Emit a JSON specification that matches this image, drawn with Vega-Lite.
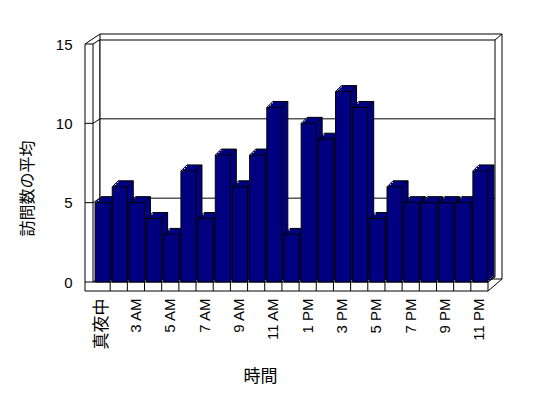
{
  "$schema": "https://vega.github.io/schema/vega-lite/v6.json",
  "width": 395,
  "height": 238,
  "autosize": {"type": "none"},
  "padding": {"left": 93, "top": 44, "right": 60, "bottom": 116},
  "background": "white",
  "config": {"view": {"stroke": null}, "font": "Liberation Sans, Noto Sans CJK JP"},
  "datasets": {
    "visits": [
      {"hour": "真夜中", "visits": 5}, {"hour": "2 AM", "visits": 6}, {"hour": "3 AM", "visits": 5},
      {"hour": "4 AM", "visits": 4}, {"hour": "5 AM", "visits": 3}, {"hour": "6 AM", "visits": 7},
      {"hour": "7 AM", "visits": 4}, {"hour": "8 AM", "visits": 8}, {"hour": "9 AM", "visits": 6},
      {"hour": "10 AM", "visits": 8}, {"hour": "11 AM", "visits": 11}, {"hour": "正午", "visits": 3},
      {"hour": "1 PM", "visits": 10}, {"hour": "2 PM", "visits": 9}, {"hour": "3 PM", "visits": 12},
      {"hour": "4 PM", "visits": 11}, {"hour": "5 PM", "visits": 4}, {"hour": "6 PM", "visits": 6},
      {"hour": "7 PM", "visits": 5}, {"hour": "8 PM", "visits": 5}, {"hour": "9 PM", "visits": 5},
      {"hour": "10 PM", "visits": 5}, {"hour": "11 PM", "visits": 7}
    ],
    "grid": [{"v": 5}, {"v": 10}],
    "ticks": [{"v": 0}, {"v": 5}, {"v": 10}, {"v": 15}],
    "one": [{}]
  },
  "data": {"name": "visits"},
  "layer": [
    {
      "data": {"name": "one"},
      "mark": {"type": "rect", "fill": "white", "stroke": "black", "strokeWidth": 1, "xOffset": 7, "x2Offset": 14, "yOffset": -10, "y2Offset": -3},
      "encoding": {
        "x": {"datum": "真夜中", "bandPosition": 0},
        "x2": {"datum": "11 PM", "bandPosition": 1},
        "y": {"datum": 15},
        "y2": {"datum": 0}
      }
    },
    {
      "data": {"name": "one"},
      "mark": {"type": "rect", "fill": "white", "stroke": "black", "strokeWidth": 1, "xOffset": 7, "x2Offset": 7, "yOffset": -4, "y2Offset": -5},
      "encoding": {
        "x": {"datum": "真夜中", "bandPosition": 0},
        "x2": {"datum": "11 PM", "bandPosition": 1},
        "y": {"datum": 15},
        "y2": {"datum": 0}
      }
    },
    {
      "data": {"name": "grid"},
      "mark": {"type": "rule", "color": "black", "strokeWidth": 1, "xOffset": 7, "x2Offset": 7, "yOffset": -4.5},
      "encoding": {
        "x": {"datum": "真夜中", "bandPosition": 0},
        "x2": {"datum": "11 PM", "bandPosition": 1},
        "y": {"field": "v", "type": "quantitative"}
      }
    },
    {
      "data": {"name": "one"},
      "mark": {"type": "rule", "color": "black", "strokeWidth": 1, "xOffset": -8, "y2Offset": 9},
      "encoding": {
        "x": {"datum": "真夜中", "bandPosition": 0},
        "y": {"datum": 15},
        "y2": {"datum": 0}
      }
    },
    {
      "data": {"name": "one"},
      "mark": {"type": "rule", "color": "black", "strokeWidth": 1},
      "encoding": {
        "x": {"datum": "真夜中", "bandPosition": 0},
        "y": {"datum": 15},
        "y2": {"datum": 0}
      }
    },
    {
      "data": {"name": "ticks"},
      "mark": {"type": "rule", "color": "black", "strokeWidth": 1, "xOffset": -8, "x2Offset": 0},
      "encoding": {
        "x": {"datum": "真夜中", "bandPosition": 0},
        "x2": {"datum": "真夜中", "bandPosition": 0},
        "y": {"field": "v", "type": "quantitative"}
      }
    },
    {
      "data": {"name": "ticks"},
      "mark": {"type": "rule", "color": "black", "strokeWidth": 1, "xOffset": 0, "x2Offset": 7, "y2Offset": -4.5},
      "encoding": {
        "x": {"datum": "真夜中", "bandPosition": 0},
        "x2": {"datum": "真夜中", "bandPosition": 0},
        "y": {"field": "v", "type": "quantitative"},
        "y2": {"field": "v"}
      }
    },
    {
      "data": {"name": "one"},
      "mark": {"type": "rule", "color": "black", "strokeWidth": 1, "xOffset": -8, "x2Offset": 7, "y2Offset": -10},
      "encoding": {
        "x": {"datum": "真夜中", "bandPosition": 0},
        "x2": {"datum": "真夜中", "bandPosition": 0},
        "y": {"datum": 15},
        "y2": {"datum": 15}
      }
    },
    {
      "data": {"name": "one"},
      "mark": {"type": "rule", "color": "black", "strokeWidth": 1, "xOffset": 7, "x2Offset": 14, "yOffset": -4, "y2Offset": -10},
      "encoding": {
        "x": {"datum": "11 PM", "bandPosition": 1},
        "x2": {"datum": "11 PM", "bandPosition": 1},
        "y": {"datum": 15},
        "y2": {"datum": 15}
      }
    },
    {
      "data": {"name": "one"},
      "mark": {"type": "rule", "color": "black", "strokeWidth": 1, "xOffset": -8, "x2Offset": 0, "yOffset": 9},
      "encoding": {
        "x": {"datum": "真夜中", "bandPosition": 0},
        "x2": {"datum": "11 PM", "bandPosition": 1},
        "y": {"datum": 0}
      }
    },
    {
      "data": {"name": "one"},
      "mark": {"type": "rule", "color": "black", "strokeWidth": 1},
      "encoding": {
        "x": {"datum": "真夜中", "bandPosition": 0},
        "x2": {"datum": "11 PM", "bandPosition": 1},
        "y": {"datum": 0}
      }
    },
    {
      "mark": {"type": "rule", "color": "black", "strokeWidth": 1, "y2Offset": 9},
      "encoding": {
        "x": {"field": "hour", "type": "nominal", "bandPosition": 1},
        "y": {"datum": 0},
        "y2": {"datum": 0}
      }
    },
    {
      "data": {"name": "one"},
      "mark": {"type": "rule", "color": "black", "strokeWidth": 1, "x2Offset": 14, "yOffset": 9, "y2Offset": -3},
      "encoding": {
        "x": {"datum": "11 PM", "bandPosition": 1},
        "x2": {"datum": "11 PM", "bandPosition": 1},
        "y": {"datum": 0},
        "y2": {"datum": 0}
      }
    },
    {
      "data": {"name": "one"},
      "mark": {"type": "rule", "color": "black", "strokeWidth": 1, "x2Offset": 7, "y2Offset": -5},
      "encoding": {
        "x": {"datum": "11 PM", "bandPosition": 1},
        "x2": {"datum": "11 PM", "bandPosition": 1},
        "y": {"datum": 0},
        "y2": {"datum": 0}
      }
    },
    {
      "mark": {"type": "bar", "fill": "#000080", "strokeWidth": 0, "width": {"band": 0.875}, "xOffset": 3, "yOffset": -2},
      "encoding": {
        "x": {"field": "hour", "type": "nominal"},
        "y": {"field": "visits", "type": "quantitative"}
      }
    },
    {
      "mark": {"type": "bar", "fill": "#000080", "strokeWidth": 0, "width": {"band": 0.875}, "xOffset": 5, "yOffset": -4},
      "encoding": {
        "x": {"field": "hour", "type": "nominal"},
        "y": {"field": "visits", "type": "quantitative"}
      }
    },
    {
      "mark": {"type": "bar", "fill": "#000080", "strokeWidth": 0, "width": {"band": 0.875}, "xOffset": 7, "yOffset": -6},
      "encoding": {
        "x": {"field": "hour", "type": "nominal"},
        "y": {"field": "visits", "type": "quantitative"}
      }
    },
    {
      "mark": {"type": "rule", "color": "black", "strokeWidth": 1, "xOffset": 8.07, "x2Offset": 23.1, "yOffset": -6},
      "encoding": {
        "x": {"field": "hour", "type": "nominal", "bandPosition": 0},
        "x2": {"field": "hour", "bandPosition": 0},
        "y": {"field": "visits", "type": "quantitative"}
      }
    },
    {
      "mark": {"type": "rule", "color": "black", "strokeWidth": 1, "xOffset": 23.1, "yOffset": -6, "y2Offset": -6},
      "encoding": {
        "x": {"field": "hour", "type": "nominal", "bandPosition": 0},
        "y": {"field": "visits", "type": "quantitative"},
        "y2": {"datum": 0}
      }
    },
    {
      "mark": {"type": "rule", "color": "black", "strokeWidth": 1, "xOffset": 2.07, "x2Offset": 8.07, "y2Offset": -6},
      "encoding": {
        "x": {"field": "hour", "type": "nominal", "bandPosition": 0},
        "x2": {"field": "hour", "bandPosition": 0},
        "y": {"field": "visits", "type": "quantitative"},
        "y2": {"field": "visits"}
      }
    },
    {
      "mark": {"type": "rule", "color": "black", "strokeWidth": 1, "xOffset": 17.1, "x2Offset": 23.1, "y2Offset": -6},
      "encoding": {
        "x": {"field": "hour", "type": "nominal", "bandPosition": 0},
        "x2": {"field": "hour", "bandPosition": 0},
        "y": {"field": "visits", "type": "quantitative"},
        "y2": {"field": "visits"}
      }
    },
    {
      "mark": {"type": "rule", "color": "black", "strokeWidth": 1, "xOffset": 17.1, "x2Offset": 23.1, "y2Offset": -6},
      "encoding": {
        "x": {"field": "hour", "type": "nominal", "bandPosition": 0},
        "x2": {"field": "hour", "bandPosition": 0},
        "y": {"datum": 0},
        "y2": {"datum": 0}
      }
    },
    {
      "mark": {"type": "bar", "fill": "#000080", "stroke": "black", "strokeWidth": 1, "width": {"band": 0.875}, "xOffset": 1},
      "encoding": {
        "x": {
          "field": "hour",
          "type": "nominal",
          "sort": null,
          "scale": {
            "domain": ["真夜中", "2 AM", "3 AM", "4 AM", "5 AM", "6 AM", "7 AM", "8 AM", "9 AM", "10 AM", "11 AM", "正午", "1 PM", "2 PM", "3 PM", "4 PM", "5 PM", "6 PM", "7 PM", "8 PM", "9 PM", "10 PM", "11 PM"],
            "paddingInner": 0,
            "paddingOuter": 0
          },
          "axis": {
            "title": "時間",
            "domain": false,
            "ticks": false,
            "grid": false,
            "labelAngle": -90,
            "labelAlign": "right",
            "labelBaseline": "middle",
            "labelPadding": 16,
            "labelColor": "black",
            "labelFontSize": {"condition": {"test": "datum.value == '真夜中'", "value": 17}, "value": 15},
            "labelExpr": "indexof(['2 AM','4 AM','6 AM','8 AM','10 AM','正午','2 PM','4 PM','6 PM','8 PM','10 PM'], datum.value) >= 0 ? '' : datum.label",
            "labelOverlap": false,
            "titleFont": "Noto Sans CJK JP",
            "titleFontSize": 17,
            "titleFontWeight": "normal",
            "titleColor": "black",
            "titleX": 167,
            "titleY": 94,
            "titleAlign": "center",
            "titleBaseline": "middle"
          }
        },
        "y": {
          "field": "visits",
          "type": "quantitative",
          "scale": {"domain": [0, 15], "nice": false},
          "axis": {
            "title": "訪問数の平均",
            "values": [0, 5, 10, 15],
            "domain": false,
            "ticks": false,
            "grid": false,
            "labelPadding": 21,
            "labelFontSize": 15,
            "labelColor": "black",
            "titleFont": "Noto Sans CJK JP",
            "titleFontSize": 16,
            "titleFontWeight": "normal",
            "titleColor": "black",
            "titleAngle": -90,
            "titleX": -66,
            "titleY": 144,
            "titleAlign": "center",
            "titleBaseline": "middle"
          }
        }
      }
    }
  ]
}
